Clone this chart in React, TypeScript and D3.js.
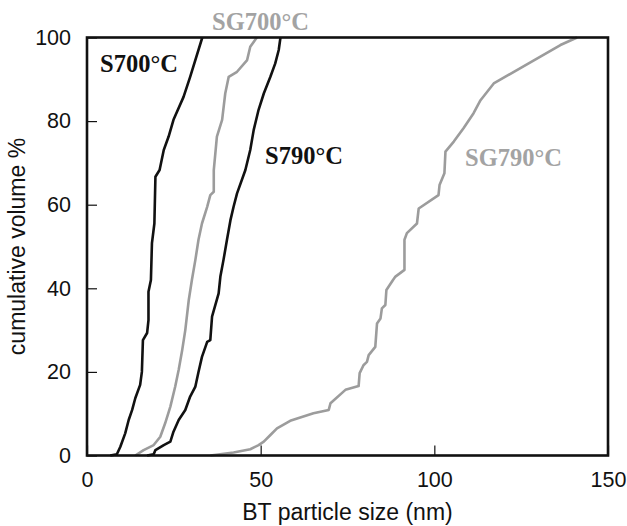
import React, { useRef, useEffect } from "react";
import * as d3 from "d3";

// cumulative volume curves: [size nm], [volume %]
const s700Size = [6.7, 8.6, 9.6, 11, 12, 13, 13.9, 15.3, 15.8, 16.1, 17.3, 17.7, 17.7, 18.4, 18.7, 19.4, 19.7, 20.9, 22.1, 23.5, 24.9, 27.8, 29.7, 33.2];
const s700Vol = [0, 0.3, 2.1, 5.3, 8.5, 10.9, 13.7, 16.9, 20, 27.6, 29.3, 32.4, 39.2, 42, 50.8, 55.5, 66.7, 68.3, 73.1, 76.3, 80.3, 85.8, 90.6, 100];

const sg700Size = [13.9, 16.3, 19.2, 21.1, 22.5, 24, 25.4, 26.4, 27.4, 28.3, 29.3, 30.2, 31.2, 32.1, 33.1, 34.6, 35.5, 36.5, 36.5, 37.4, 38.9, 39.8, 40.8, 43.2, 46.1, 47, 48.9];
const sg700Vol = [0, 1.3, 2.5, 4.5, 7.7, 11.7, 16.5, 20.5, 25.2, 30, 37.2, 42, 46.8, 51.6, 55.5, 59.5, 62.3, 63.1, 68.3, 76.3, 80.3, 86.6, 90.6, 91.8, 94.6, 97.8, 100];

const s790Size = [17.3, 19.2, 19.7, 22.1, 24, 24.9, 26.4, 28.3, 29.7, 31.2, 32.1, 33.1, 34.1, 34.6, 35.5, 36, 37.9, 38.4, 39.3, 40.3, 41.3, 42.2, 43.2, 45.6, 47, 48, 49.4, 50.9, 52.8, 54.2, 55.2, 55.7];
const s790Vol = [0, 0.3, 1.3, 2.5, 3.3, 5.7, 8.5, 10.9, 14.1, 16.5, 20, 23.6, 26, 27.2, 27.6, 33.2, 38.8, 42.8, 46.8, 51.6, 56.3, 59.5, 62.7, 68.3, 73.1, 77.9, 82.7, 86.6, 90.6, 93.8, 97, 100];

const sg790Size = [35.5, 42.2, 47, 49.4, 50.9, 52.8, 54.7, 58.5, 65.2, 69.6, 70.1, 74.4, 78.2, 78.5, 79.6, 80.6, 81.1, 83, 83.5, 84.5, 84.9, 85.9, 86.2, 88.1, 88.8, 91.4, 91.4, 92.1, 95, 95.5, 101.2, 101.5, 102.9, 103.2, 105.6, 108.4, 111.3, 113.3, 117.1, 136.3, 141.1];
const sg790Vol = [0, 0.7, 1.5, 2.5, 3.3, 4.9, 6.5, 8.3, 10.1, 10.9, 12.5, 15.7, 16.6, 19.7, 21.6, 22.4, 24, 26, 31.6, 32.8, 35.2, 36, 39.6, 42, 42.8, 44.4, 51.6, 53.2, 55.5, 59.1, 62.3, 64.7, 67.5, 72.7, 75.1, 78.3, 81.9, 85, 89, 98.2, 100];

const xTicks = [0, 50, 100, 150];
const yTicks = [0, 20, 40, 60, 80, 100];

const BLACK = "#111";
const GREY = "#9c9c9c";

export default function App() {
  const chartRef = useRef<SVGSVGElement>(null);

  useEffect(() => {
    const svg = d3.select(chartRef.current);
    svg.selectAll("*").remove();

    const width = 627;
    const height = 526;
    const margin = { top: 37.5, right: 19, bottom: 70.5, left: 87 };
    const innerWidth = width - margin.left - margin.right;
    const innerHeight = height - margin.top - margin.bottom;

    const xScale = d3.scaleLinear().domain([0, 150]).range([0, innerWidth]);
    const yScale = d3.scaleLinear().domain([0, 100]).range([innerHeight, 0]);

    const g = svg
      .append("g")
      .attr("transform", `translate(${margin.left},${margin.top})`);

    const series = [
      { size: s700Size, vol: s700Vol, color: BLACK },
      { size: sg700Size, vol: sg700Vol, color: GREY },
      { size: s790Size, vol: s790Vol, color: BLACK },
      { size: sg790Size, vol: sg790Vol, color: GREY },
    ];

    const line = d3
      .line<[number, number]>()
      .x((d) => xScale(d[0]))
      .y((d) => yScale(d[1]));

    series.forEach((s) => {
      const pts = s.size.map((v, i) => [v, s.vol[i]] as [number, number]);
      g.append("path")
        .datum(pts)
        .attr("d", line)
        .attr("fill", "none")
        .attr("stroke", s.color)
        .attr("stroke-width", 2.6)
        .attr("stroke-linejoin", "round");
    });

    // axes with inward ticks
    const xAxis = g
      .append("g")
      .attr("transform", `translate(0,${innerHeight})`)
      .call(d3.axisBottom(xScale).tickValues(xTicks).tickSize(-10).tickPadding(16));
    const yAxis = g
      .append("g")
      .call(d3.axisLeft(yScale).tickValues(yTicks).tickSize(-10).tickPadding(16));

    [xAxis, yAxis].forEach((ax) => {
      ax.select(".domain").remove();
      ax.selectAll("line").attr("stroke", BLACK).attr("stroke-width", 1.2);
      ax.selectAll("text")
        .attr("fill", "#111")
        .style("font-family", "'Liberation Sans', Arial, sans-serif")
        .style("font-size", "21.5px");
    });
    xAxis.selectAll("text").attr("dy", "0.71em");

    g.append("rect")
      .attr("x", 0)
      .attr("y", 0)
      .attr("width", innerWidth)
      .attr("height", innerHeight)
      .attr("fill", "none")
      .attr("stroke", BLACK)
      .attr("stroke-width", 2.6);

    g.append("text")
      .attr("x", innerWidth / 2)
      .attr("y", innerHeight + 64)
      .attr("text-anchor", "middle")
      .style("font-family", "'Liberation Sans', Arial, sans-serif")
      .style("font-size", "23px")
      .attr("fill", "#111")
      .text("BT particle size (nm)");

    g.append("text")
      .attr("transform", "rotate(-90)")
      .attr("x", -innerHeight / 2)
      .attr("y", -margin.left + 25)
      .attr("text-anchor", "middle")
      .style("font-family", "'Liberation Sans', Arial, sans-serif")
      .style("font-size", "23px")
      .attr("fill", "#111")
      .text("cumulative volume %");

    // series labels
    const labels = [
      { text: "S700°C", x: 100, y: 72, color: BLACK },
      { text: "SG700°C", x: 212, y: 30, color: "#a3a3a3" },
      { text: "S790°C", x: 265, y: 164, color: BLACK },
      { text: "SG790°C", x: 465, y: 165.5, color: "#a3a3a3" },
    ];
    svg
      .selectAll("text.series-label")
      .data(labels)
      .enter()
      .append("text")
      .attr("class", "series-label")
      .attr("x", (d) => d.x)
      .attr("y", (d) => d.y)
      .attr("fill", (d) => d.color)
      .style("font-family", "'Liberation Serif', 'Times New Roman', serif")
      .style("font-weight", "bold")
      .style("font-size", "24.5px")
      .text((d) => d.text);

    svg.attr("width", width).attr("height", height);
  }, []);

  return (
    <svg
      ref={chartRef}
      width={627}
      height={526}
      style={{ position: "absolute", left: 0, top: 0, background: "#fff" }}
    ></svg>
  );
}
